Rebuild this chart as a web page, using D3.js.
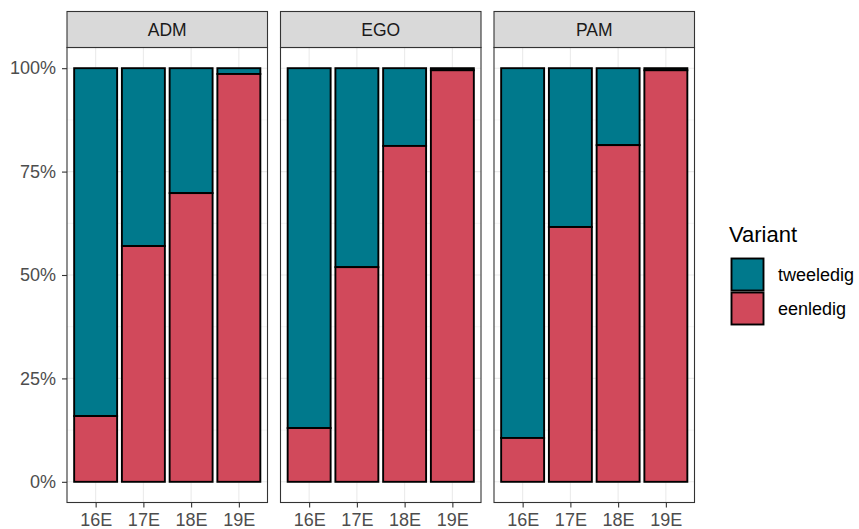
<!DOCTYPE html>
<html><head><meta charset="utf-8">
<script src="https://cdn.jsdelivr.net/npm/d3@7"></script>
<style>body{margin:0;background:#fff;} svg{display:block;font-family:"Liberation Sans",Arial,sans-serif;}</style>
</head><body>
<svg id="c" width="859" height="529"></svg>
<script>
const panels = ["ADM","EGO","PAM"];
const periods = ["16E","17E","18E","19E"];
const variants = ["tweeledig","eenledig"];
const colors = ["#00798C","#D1495B"];
// share of "eenledig" per panel, per period
const eenADM = [0.159, 0.570, 0.698, 0.986];
const eenEGO = [0.130, 0.519, 0.812, 0.995];
const eenPAM = [0.106, 0.616, 0.814, 0.995];
const eenShares = [eenADM, eenEGO, eenPAM];
const yTicks = [0, 0.25, 0.5, 0.75, 1];
const yTickLabels = ["0%","25%","50%","75%","100%"];

const svg = d3.select("#c");
const panelLeft = [67, 280.5, 494];
const panelW = 200.5;
const stripTop = 11.5, stripH = 36;
const plotTop = stripTop + stripH, plotBottom = 502.5;

const y = d3.scaleLinear().domain([-0.05, 1.05]).range([plotBottom, plotTop]);

panels.forEach((p, pi) => {
  const x0 = panelLeft[pi];
  const xc = d3.scaleLinear().domain([0.4, 4.6]).range([x0, x0 + panelW]);
  const g = svg.append("g");
  g.append("rect").attr("x", x0).attr("y", plotTop).attr("width", panelW).attr("height", plotBottom - plotTop).attr("fill", "#fff");
  [0.125, 0.375, 0.625, 0.875].forEach(v => {
    g.append("line").attr("x1", x0).attr("x2", x0 + panelW).attr("y1", y(v)).attr("y2", y(v)).attr("stroke", "#EBEBEB").attr("stroke-width", 0.55);
  });
  yTicks.forEach(v => {
    g.append("line").attr("x1", x0).attr("x2", x0 + panelW).attr("y1", y(v)).attr("y2", y(v)).attr("stroke", "#EBEBEB").attr("stroke-width", 1.1);
  });
  periods.forEach((c, i) => {
    g.append("line").attr("x1", xc(i+1)).attr("x2", xc(i+1)).attr("y1", plotTop).attr("y2", plotBottom).attr("stroke", "#EBEBEB").attr("stroke-width", 1.1);
  });
  const shares = eenShares[pi];
  periods.forEach((c, i) => {
    const bl = xc(i+1 - 0.45), br = xc(i+1 + 0.45);
    const e = shares[i];
    g.append("rect").attr("x", bl).attr("width", br - bl)
      .attr("y", y(1)).attr("height", y(e) - y(1))
      .attr("fill", colors[0]).attr("stroke", "#000").attr("stroke-width", 1.9);
    g.append("rect").attr("x", bl).attr("width", br - bl)
      .attr("y", y(e)).attr("height", y(0) - y(e))
      .attr("fill", colors[1]).attr("stroke", "#000").attr("stroke-width", 1.9);
  });
  g.append("rect").attr("x", x0).attr("y", plotTop).attr("width", panelW).attr("height", plotBottom - plotTop).attr("fill", "none").attr("stroke", "#333333").attr("stroke-width", 1.1);
  g.append("rect").attr("x", x0).attr("y", stripTop).attr("width", panelW).attr("height", stripH).attr("fill", "#D9D9D9").attr("stroke", "#333333").attr("stroke-width", 1.1);
  g.append("text").attr("x", x0 + panelW/2).attr("y", stripTop + stripH/2).attr("dy", "0.36em").attr("text-anchor", "middle").attr("font-size", 17.5).attr("fill", "#1A1A1A").text(p);
  const xa = d3.axisBottom(xc).tickValues([1,2,3,4]).tickFormat((d) => periods[d-1]).tickSize(5).tickPadding(6).tickSizeOuter(0);
  const ag = g.append("g").attr("transform", `translate(0,${plotBottom})`).call(xa);
  ag.select(".domain").remove();
  ag.selectAll("line").attr("stroke", "#333333").attr("stroke-width", 1.1);
  ag.selectAll("text").attr("font-size", 18).attr("fill", "#4D4D4D").attr("font-family", "Liberation Sans, Arial, sans-serif");
});

const ya = d3.axisLeft(y).tickValues(yTicks).tickFormat((d, i) => yTickLabels[i]).tickSize(5).tickPadding(6);
const yg = svg.append("g").attr("transform", `translate(${panelLeft[0]},0)`).call(ya);
yg.select(".domain").remove();
yg.selectAll("line").attr("stroke", "#333333").attr("stroke-width", 1.1);
yg.selectAll("text").attr("font-size", 18).attr("fill", "#4D4D4D").attr("font-family", "Liberation Sans, Arial, sans-serif");

const lg = svg.append("g");
lg.append("text").attr("x", 729).attr("y", 242).attr("font-size", 22).attr("fill", "#000").text("Variant");
variants.forEach((v, i) => {
  const ky = 258 + i * 34;
  lg.append("rect").attr("x", 731.5).attr("y", ky + 0.5).attr("width", 32).attr("height", 32).attr("fill", colors[i]).attr("stroke", "#000").attr("stroke-width", 1.9);
  lg.append("text").attr("x", 778).attr("y", ky + 17).attr("dy", "0.36em").attr("font-size", 18).attr("fill", "#000").text(v);
});
</script>
</body></html>
